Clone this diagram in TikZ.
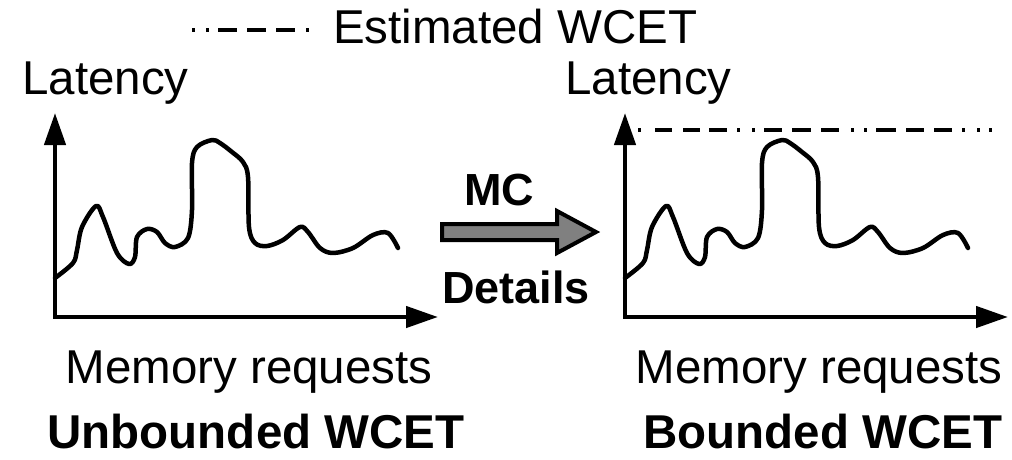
\documentclass[tikz,border=0pt]{standalone}
\usepackage{fontspec}
\setmainfont{Liberation Sans}
\usetikzlibrary{arrows.meta}
\definecolor{arrowgray}{RGB}{128,128,128}
\tikzset{
  txt/.style={inner sep=0pt, font=\fontsize{47.5}{50}\selectfont},
  btxt/.style={inner sep=0pt, font=\fontsize{47.5}{50}\selectfont\bfseries},
  mtxt/.style={inner sep=0pt, font=\fontsize{45}{50}\selectfont\bfseries},
  axis/.style={line width=4.5pt, line join=miter, {Triangle[length=32pt,width=21pt]}-{Triangle[length=32pt,width=21pt]}},
  curve/.style={line width=4.5pt, line join=round, line cap=round},
  wcet/.style={line width=4pt},
}
\begin{document}
\begin{tikzpicture}[x=1pt,y=-1pt]
\useasboundingbox (0,0) rectangle (1012,459);
% legend
\coordinate (lg1) at (192,30);
\coordinate (lg2) at (309,30);
\draw[wcet, dash pattern=on 3pt off 11pt on 3pt off 9pt on 19pt off 10pt on 19pt off 10pt on 19pt off 11pt on 3pt off 40pt] (lg1) -- (lg2);
\node[txt, anchor=base west] (legend) at (333,43) {Estimated WCET};
% left plot
\node[txt, anchor=base west] (lat1) at (22,94) {Latency};
\coordinate (o1) at (55,317);
\coordinate (yt1) at (55,113);
\coordinate (xt1) at (438,317);
\draw[axis] (yt1) -- (o1) -- (xt1);
\draw[curve] plot[smooth, tension=0.55] coordinates {
 (55,278) (73,263) (77,250) (82,227) (96,206) (103,217) (117,253) (129,264)
 (135,257) (137,237) (147,229) (157,232) (165,243) (175,247) (188,238)
 (192,210) (192,163) (197,147) (212,140) (220,143) (232,152) (243,162)
 (248,177) (249,227) (255,243) (267,246) (283,240) (300,227) (308,232)
 (320,248) (333,253) (353,248) (373,235) (388,233) (398,248)};
\node[txt, anchor=base] (mr1) at (249,383) {Memory requests};
\node[btxt, anchor=base] (ub) at (256,448) {Unbounded WCET};
% middle arrow
\node[mtxt, anchor=base] (mc) at (499,205) {MC};
\node[mtxt, anchor=base] (det) at (516,303) {Details};
\draw[line width=4pt, fill=arrowgray, line join=miter]
  (442,224) -- (557,224) -- (557,211) -- (596,232) -- (557,253) -- (557,240) -- (442,240) -- cycle;
% right plot
\node[txt, anchor=base west] (lat2) at (565,94) {Latency};
\coordinate (o2) at (625,317);
\coordinate (yt2) at (625,113);
\coordinate (xt2) at (1008,317);
\draw[axis] (yt2) -- (o2) -- (xt2);
\begin{scope}[xshift=570pt]
\draw[curve] plot[smooth, tension=0.55] coordinates {
 (55,278) (73,263) (77,250) (82,227) (96,206) (103,217) (117,253) (129,264)
 (135,257) (137,237) (147,229) (157,232) (165,243) (175,247) (188,238)
 (192,210) (192,163) (197,147) (212,140) (220,143) (232,152) (243,162)
 (248,177) (249,227) (255,243) (267,246) (283,240) (300,227) (308,232)
 (320,248) (333,253) (353,248) (373,235) (388,233) (398,248)};
\end{scope}
\coordinate (w1) at (638,130);
\coordinate (w2) at (993,130);
\draw[wcet, dash pattern=on 3pt off 14pt on 17pt off 11pt on 17pt off 9pt on 18pt off 10pt on 3pt off 12pt on 3pt off 9pt on 18pt off 10pt on 19pt off 10pt on 18pt off 12pt on 3pt off 10pt on 3pt off 9pt on 20pt off 10pt on 18pt off 10pt on 18pt off 10pt on 3pt off 12pt on 3pt off 9pt on 3pt off 100pt] (w1) -- (w2);
\node[txt, anchor=base] (mr2) at (819,383) {Memory requests};
\node[btxt, anchor=base] (b) at (823,448) {Bounded WCET};
\end{tikzpicture}
\end{document}
